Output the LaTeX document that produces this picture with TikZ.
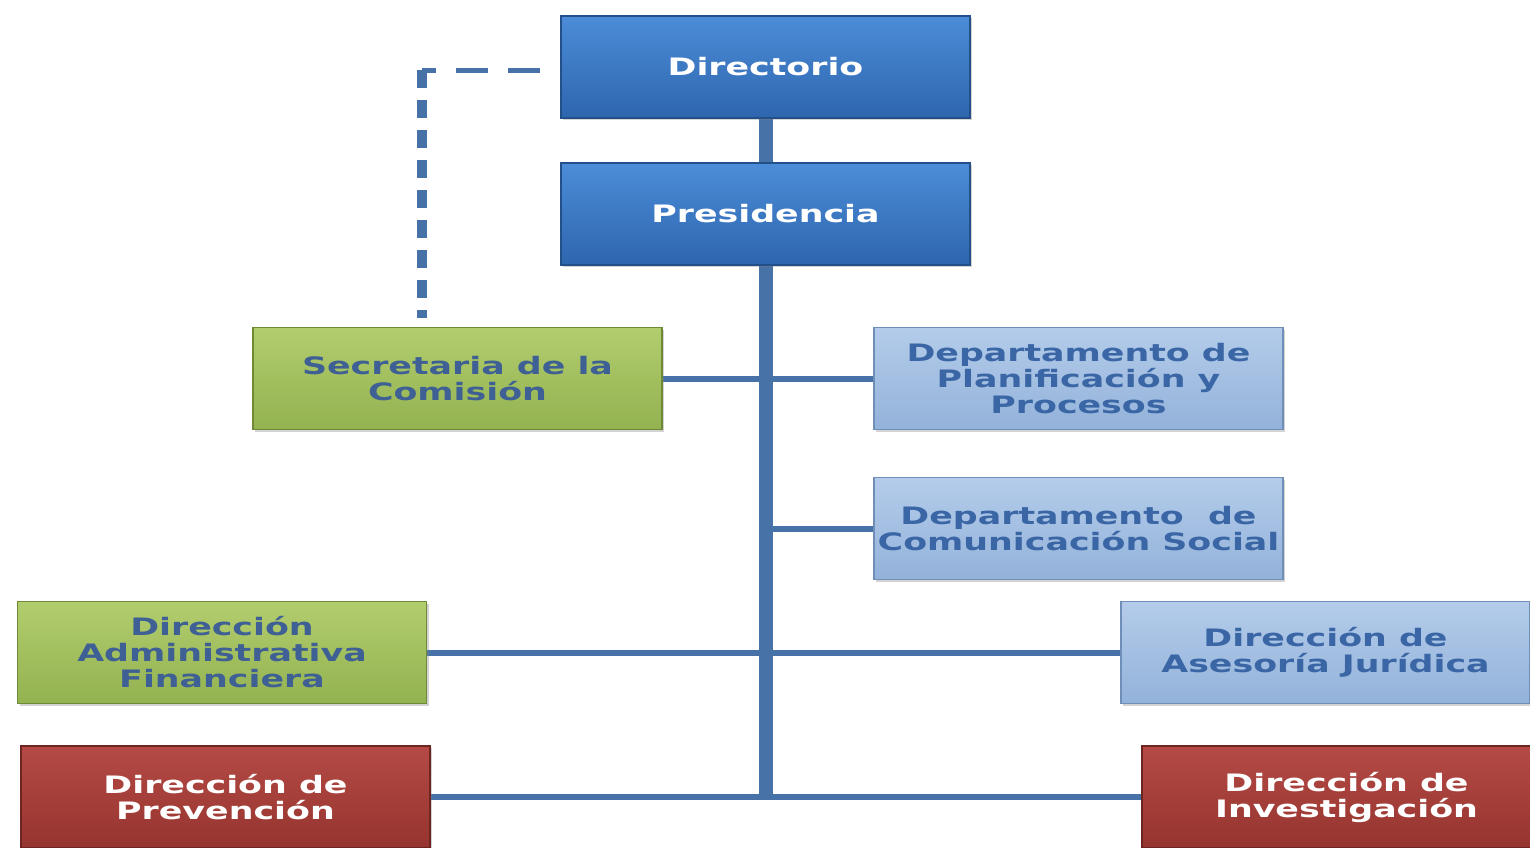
\documentclass[tikz,border=0pt]{standalone}
\usepackage{fontspec}
\setmainfont{DejaVu Sans}[FakeStretch=1.45]
\usetikzlibrary{shadows,backgrounds}
\definecolor{linec}{HTML}{4672A8}
\definecolor{dbtop}{HTML}{4C8CD8}
\definecolor{dbbot}{HTML}{2E66AE}
\definecolor{dbdraw}{HTML}{24508A}
\definecolor{lbtop}{HTML}{B4CCEA}
\definecolor{lbbot}{HTML}{93B2DA}
\definecolor{lbdraw}{HTML}{6F8FB8}
\definecolor{grtop}{HTML}{B2CD6E}
\definecolor{grbot}{HTML}{93B250}
\definecolor{grdraw}{HTML}{6E8A38}
\definecolor{rdtop}{HTML}{B44A45}
\definecolor{rdbot}{HTML}{96342F}
\definecolor{rddraw}{HTML}{6E2420}
\definecolor{txtblue}{HTML}{3A66A6}
\definecolor{txtgreen}{HTML}{3F6094}
\tikzset{
  box/.style={rectangle, minimum width=204.5pt, minimum height=51pt, inner sep=1pt,
    align=center, font=\bfseries\fontsize{12}{13}\selectfont,
    drop shadow={shadow xshift=1.2pt, shadow yshift=-1.2pt, opacity=0.35}, line width=0.8pt},
  darkbox/.style={box, top color=dbtop, bottom color=dbbot, draw=dbdraw, text=white},
  lightbox/.style={box, top color=lbtop, bottom color=lbbot, draw=lbdraw, text=txtblue},
  greenbox/.style={box, top color=grtop, bottom color=grbot, draw=grdraw, text=txtgreen},
  redbox/.style={box, top color=rdtop, bottom color=rdbot, draw=rddraw, text=white},
  trunk/.style={draw=linec, line width=7pt},
  branch/.style={draw=linec, line width=3pt},
  dashh/.style={draw=linec, line width=2.5pt, dash pattern=on 16pt off 10pt},
  dashv/.style={draw=linec, line width=5pt, dash pattern=on 9pt off 6pt},
}
\begin{document}
\begin{tikzpicture}[x=0.5pt, y=-0.5pt]
\useasboundingbox (0,0) rectangle (1530,847);
\clip (0,0) rectangle (1530,847);
\coordinate (trunkbot) at (765.5,797);
\coordinate (dashstart) at (540,70);
\coordinate (dashcorner) at (422,70);
\coordinate (dashend) at (422,318);
\node[darkbox] (dir) at (765.5,67) {Directorio};
\node[darkbox] (pres) at (765.5,214) {Presidencia};
\node[greenbox] (sec) at (457.5,378.5) {Secretaria de la\\Comisión};
\node[lightbox] (plan) at (1078.5,378.5) {Departamento de\\Planificación y\\Procesos};
\node[lightbox] (com) at (1078.5,528.5) {Departamento\ \ de\\Comunicación Social};
\node[greenbox] (adm) at (222,652.5) {Dirección\\Administrativa\\Financiera};
\node[lightbox] (ase) at (1325.5,652.5) {Dirección de\\Asesoría Jurídica};
\node[redbox] (prev) at (225.5,797) {Dirección de\\Prevención};
\node[redbox] (inv) at (1346.5,797) {Dirección de\\Investigación};
\begin{scope}[on background layer]
\path[trunk] (dir.south) -- (pres.north);
\path[trunk] (pres.south) -- (trunkbot);
\path[branch] (sec.east) -- (plan.west);
\path[branch] (com.west) -- (com.west -| trunkbot);
\path[branch] (adm.east) -- (ase.west);
\path[branch] (prev.east |- trunkbot) -- (inv.west |- trunkbot);
\path[dashh] (dashstart) -- (dashcorner);
\path[dashv] (dashcorner) -- (dashend);
\end{scope}
\end{tikzpicture}
\end{document}
